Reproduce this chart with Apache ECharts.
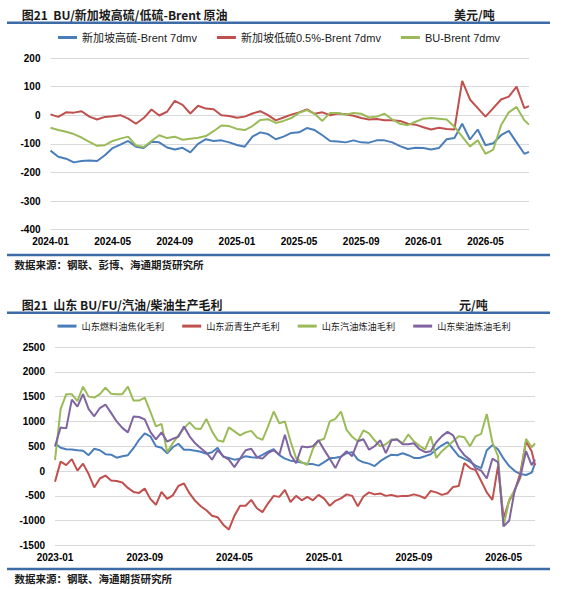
<!DOCTYPE html>
<html><head><meta charset="utf-8">
<script src="https://cdn.jsdelivr.net/npm/echarts@6/dist/echarts.min.js"></script>
<style>html,body{margin:0;padding:0;background:#fff}#c{width:565px;height:589px}</style>
</head><body><div id="c"></div>
<script>
// ---------- Chart 1: BU / Singapore HSFO / LSFO minus Brent (USD/t), x = months since 2024-01 ----------
const topTickLabels = ['2024-01','2024-05','2024-09','2025-01','2025-05','2025-09','2026-01','2026-05'];
const topMonths = [0,0.5,1,1.5,2,2.5,3,3.5,4,4.5,5,5.5,6,6.5,7,7.5,8,8.5,9,9.5,10,10.5,11,11.5,12,12.5,13,13.5,14,14.5,
  15,15.5,16,16.5,17,17.5,18,18.5,19,19.5,20,20.5,21,21.5,22,22.5,23,23.5,24,24.5,25,25.5,26,26.5,27,27.5,28,28.5,29,29.5,30,30.5,30.8];
const sgHsfo = [-124,-145,-152,-165,-160,-158,-160,-140,-115,-103,
  -90,-110,-115,-93,-95,-113,-120,-114,-130,-100,
  -84,-90,-88,-95,-104,-110,-75,-60,-66,-84,
  -75,-62,-60,-45,-52,-70,-90,-92,-95,-88,
  -95,-96,-88,-88,-95,-108,-118,-114,-115,-120,
  -115,-84,-80,-30,-85,-50,-105,-98,-70,-55,
  -95,-135,-128];
const sgLsfo = [3,-6,10,9,14,-5,-15,-6,-4,0,
  -12,-30,-10,20,-1,12,50,36,6,33,
  23,21,0,-3,-9,-5,6,14,0,-18,
  -8,2,10,20,5,10,0,6,3,-2,
  -10,-15,-13,-18,-18,-20,-30,-33,-42,-50,
  -44,-48,-50,120,55,25,-5,25,55,65,
  100,25,32];
const buBrent = [-44,-52,-58,-66,-78,-93,-107,-105,-90,-82,
  -75,-106,-111,-90,-70,-80,-75,-86,-82,-79,
  -73,-56,-36,-38,-48,-52,-38,-17,-14,-27,
  -20,-10,8,18,5,-20,8,8,2,8,
  5,-8,-5,5,-15,-30,-35,-23,-12,-10,
  -12,-15,-40,-75,-109,-88,-135,-120,-35,10,
  29,-18,-33];

// ---------- Chart 2: Shandong refining margins (CNY/t), x = months since 2023-01 ----------
const botTickLabels = ['2023-01','2023-09','2024-05','2025-01','2025-09','2026-05'];
const botMonths = [0,0.5,1,1.5,2,2.5,3,3.5,4,4.5,5,5.5,6,6.5,7,7.5,8,8.5,9,9.5,
  10,10.5,11,11.5,12,12.5,13,13.5,14,14.5,15,15.5,16,16.5,17,17.5,18,18.5,19,19.5,
  20,20.5,21,21.5,22,22.5,23,23.5,24,24.5,25,25.5,26,26.5,27,27.5,28,28.5,29,29.5,
  30,30.5,31,31.5,32,32.5,33,33.5,34,34.5,35,35.5,36,36.5,37,37.5,38,38.5,39,39.5,
  40,40.5,41,41.5,42,42.5,42.8];
const fuCoking = [560,470,440,435,420,410,320,450,420,340,
  330,270,300,320,460,630,760,700,500,470,
  360,480,550,430,430,410,390,350,380,470,
  290,265,230,250,300,280,270,325,390,440,
  320,250,210,190,170,142,140,110,180,257,
  270,290,360,380,230,176,150,100,200,270,
  330,320,360,320,264,264,300,340,433,520,
  583,440,300,244,190,110,60,420,520,440,
  250,100,0,-60,-80,-30,150];
const asphalt = [-217,190,120,240,10,150,-60,-330,-150,-90,
  -190,-200,-230,-340,-420,-440,-350,-560,-680,-420,
  -560,-490,-300,-250,-450,-600,-710,-790,-900,-930,
  -1080,-1180,-900,-700,-700,-580,-750,-827,-650,-500,
  -520,-380,-623,-500,-590,-520,-590,-480,-556,-700,
  -600,-550,-470,-500,-710,-514,-430,-470,-450,-500,
  -480,-514,-500,-500,-470,-500,-548,-400,-430,-480,
  -447,-320,-300,160,60,20,-200,-430,-582,100,
  -946,-600,-400,-34,600,400,120];
const gasoline = [220,1250,1550,1550,1410,1700,1500,1480,1550,1680,
  1560,1550,1550,1700,1420,1420,1480,1200,900,950,
  380,560,720,860,980,860,850,1050,800,620,
  590,880,800,720,780,810,680,630,900,1200,
  960,1000,600,260,180,122,450,610,650,1000,
  1050,1200,830,690,600,820,760,620,500,540,
  636,640,560,738,600,510,433,700,264,400,
  500,600,700,680,500,700,750,1150,580,300,
  -1115,-575,-380,-135,650,480,560];
const diesel = [495,880,860,1440,1300,1550,1250,1104,1270,1340,
  1172,1000,870,780,1100,1090,1040,790,640,780,
  596,650,690,900,700,560,460,370,230,420,
  300,230,80,250,420,450,280,250,360,420,
  330,732,330,160,494,480,500,620,427,250,
  60,290,400,300,600,640,430,500,620,360,
  620,636,540,540,560,440,380,400,580,704,
  790,720,467,320,230,60,10,-150,250,180,
  -1115,-1000,-372,-100,400,120,230];

const C_BLUE = '#4a7ebb', C_RED = '#c0504d', C_GREEN = '#9bbb59', C_PURPLE = '#8064a2';
const LATIN = "'Liberation Sans', 'Noto Sans CJK SC', sans-serif";
const CJK = "'Noto Sans CJK SC', 'Liberation Sans', sans-serif";
const RULE = '#3d6ba6';

function pairs(xs, ys) { return xs.map((x, i) => [x, ys[i]]); }
// zero: [from, mid, to] in axis units — the zero line overhangs the plot slightly, as in the original
function line(name, xs, ys, color, xi, yi, zero) {
  const s = {
    name, type: 'line', xAxisIndex: xi, yAxisIndex: yi,
    data: pairs(xs, ys), symbol: 'none', showSymbol: false,
    lineStyle: { color, width: 2 }, itemStyle: { color },
    emphasis: { disabled: true }, animation: false
  };
  if (zero) {
    s.markLine = {
      silent: true, symbol: ['none', 'none'], animation: false,
      label: { show: false },
      lineStyle: { color: '#000', width: 1.5, type: 'solid' },
      emphasis: { disabled: true },
      data: [
        [{ coord: [zero[0], 0] }, { coord: [zero[1], 0] }],
        [{ coord: [zero[1], 0] }, { coord: [zero[2], 0] }]
      ]
    };
  }
  return s;
}
function xAxis(gi, max, step, labels) {
  return {
    type: 'value', gridIndex: gi, min: 0, max, interval: step,
    axisLine: { show: false }, axisTick: { show: false }, splitLine: { show: false },
    axisLabel: {
      margin: 7, color: '#000', fontWeight: 'bold', fontSize: 10, fontFamily: LATIN,
      showMaxLabel: false,
      formatter: v => (Number.isInteger(v / step) && labels[v / step]) ? labels[v / step] : ''
    }
  };
}
function yAxis(gi, min, max, interval) {
  return {
    type: 'value', gridIndex: gi, min, max, interval,
    axisLine: { show: false }, axisTick: { show: false },
    splitLine: { show: true, lineStyle: { color: '#d9d9d9', width: 1 } },
    axisLabel: { margin: 10, color: '#000', fontWeight: 'bold', fontSize: 10, fontFamily: LATIN,
      formatter: v => String(v) }
  };
}
function txt(x, y, text, size, weight) {
  return { type: 'text', x, y, silent: true,
    style: { text, fill: '#1a1a1a', font: weight + ' ' + size + "px 'Noto Sans CJK SC', 'Liberation Sans', sans-serif",
      verticalAlign: 'middle', textVerticalAlign: 'middle' } };
}
function rule(y) {
  return { type: 'line', silent: true, shape: { x1: 7, y1: y, x2: 550, y2: y },
    style: { stroke: RULE, lineWidth: 2.5 } };
}

const chart = echarts.init(document.getElementById('c'), null, { renderer: 'svg' });
chart.setOption({
  animation: false,
  backgroundColor: '#fff',
  grid: [
    { left: 50.5, top: 58, width: 478.5, height: 171.6, containLabel: false, outerBoundsMode: 'none' },
    { left: 55, top: 347, width: 480, height: 198.5, containLabel: false, outerBoundsMode: 'none' }
  ],
  legend: [
    { left: 58, top: 32, padding: 0, itemGap: 20, itemWidth: 19, itemHeight: 3, icon: 'rect',
      textStyle: { fontSize: 11, color: '#1a1a1a', fontFamily: LATIN },
      data: ['新加坡高硫-Brent 7dmv', '新加坡低硫0.5%-Brent 7dmv', 'BU-Brent 7dmv'] },
    { left: 57.5, top: 321.5, padding: 0, itemGap: 18, itemWidth: 19, itemHeight: 3, icon: 'rect',
      textStyle: { fontSize: 9.2, color: '#1a1a1a', fontFamily: CJK },
      data: ['山东燃料油焦化毛利', '山东沥青生产毛利', '山东汽油炼油毛利', '山东柴油炼油毛利'] }
  ],
  xAxis: [xAxis(0, 30.8, 4, topTickLabels), xAxis(1, 42.8, 8, botTickLabels)],
  yAxis: [yAxis(0, -400, 200, 100), yAxis(1, -1500, 2500, 500)],
  series: [
    line('新加坡高硫-Brent 7dmv', topMonths, sgHsfo, C_BLUE, 0, 0, [-0.52, 15, 31.32]),
    line('新加坡低硫0.5%-Brent 7dmv', topMonths, sgLsfo, C_RED, 0, 0, null),
    line('BU-Brent 7dmv', topMonths, buBrent, C_GREEN, 0, 0, null),
    line('山东燃料油焦化毛利', botMonths, fuCoking, C_BLUE, 1, 1, [-0.47, 20, 43.78]),
    line('山东沥青生产毛利', botMonths, asphalt, C_RED, 1, 1, null),
    line('山东汽油炼油毛利', botMonths, gasoline, C_GREEN, 1, 1, null),
    line('山东柴油炼油毛利', botMonths, diesel, C_PURPLE, 1, 1, null)
  ],
  graphic: [
    txt(21.7, 14, '图21  BU/新加坡高硫/低硫-Brent 原油', 12, 'bold'),
    txt(454, 14, '美元/吨', 12, 'bold'),
    rule(22.7),
    rule(255),
    txt(14.4, 264, '数据来源：钢联、彭博、海通期货研究所', 10.5, 'bold'),
    txt(21.7, 304, '图21  山东 BU/FU/汽油/柴油生产毛利', 12, 'bold'),
    txt(459, 304, '元/吨', 12, 'bold'),
    rule(312.7),
    rule(569),
    txt(14.4, 578, '数据来源：钢联、海通期货研究所', 10.5, 'bold')
  ]
});
</script></body></html>
